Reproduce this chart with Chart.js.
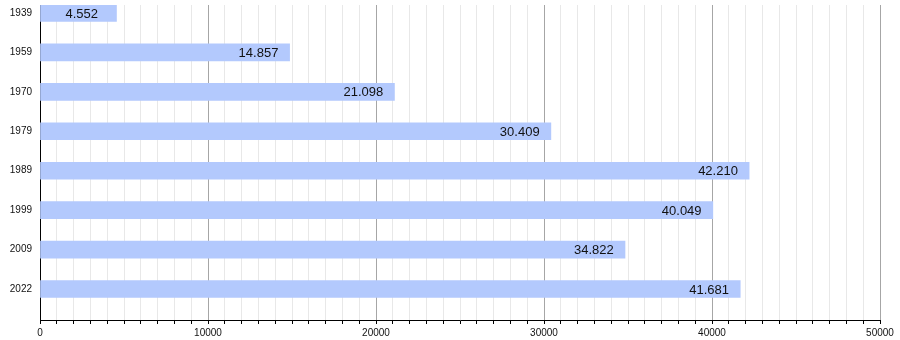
<!DOCTYPE html>
<html>
<head>
<meta charset="utf-8">
<script src="https://cdn.jsdelivr.net/npm/chart.js@4/dist/chart.umd.min.js"></script>
<style>
html,body{margin:0;padding:0;background:#fff;}
canvas{display:block;}
</style>
</head>
<body>
<canvas id="c" width="900" height="340"></canvas>
<script>
const years = ["1939","1959","1970","1979","1989","1999","2009","2022"];
const population = [4552, 14857, 21098, 30409, 42210, 40049, 34822, 41681];
const xTickLabels = ["0","10000","20000","30000","40000","50000"];

function fmt(v){ return String(v).replace(/\B(?=(\d{3})+(?!\d))/g, '.'); }

const labelPlugin = {
  id: 'valueLabels',
  afterDatasetsDraw(chart){
    const ctx = chart.ctx;
    const meta = chart.getDatasetMeta(0);
    ctx.save();
    ctx.font = '13px "Liberation Sans", Arial, sans-serif';
    ctx.fillStyle = '#111';
    ctx.textAlign = 'left';
    ctx.textBaseline = 'middle';
    meta.data.forEach((el, i) => {
      ctx.fillText(fmt(population[i]), el.x - 51, el.y + 1);
    });
    ctx.restore();
  }
};

new Chart(document.getElementById('c'), {
  type: 'bar',
  data: {
    datasets: [{
      data: population.map((v, i) => ({x: v, y: i})),
      backgroundColor: '#b3c9fd',
      borderWidth: 0,
      barThickness: 17
    }]
  },
  options: {
    indexAxis: 'y',
    responsive: false,
    animation: false,
    layout: { padding: { top: 5, right: 20, left: 0, bottom: 0 } },
    plugins: { legend: { display: false }, tooltip: { enabled: false } },
    scales: {
      x: {
        type: 'linear',
        min: 0, max: 50000,
        offset: false,
        afterFit(s){ s.height = 20; s.paddingLeft = 0; s.paddingRight = 0; },
        ticks: {
          stepSize: 1000,
          autoSkip: false,
          maxRotation: 0,
          padding: 3,
          color: '#111',
          font: { family: '"Liberation Sans", Arial, sans-serif', size: 10 },
          callback: (v) => (v % 10000 === 0 ? xTickLabels[v / 10000] : '')
        },
        grid: {
          color: (c) => (c.tick && c.tick.value % 10000 === 0 ? '#a6a6a6' : '#e8e8e8'),
          tickColor: '#000',
          tickLength: 4,
          lineWidth: 1
        },
        border: { color: '#000', width: 1 }
      },
      y: {
        type: 'linear',
        reverse: true,
        offset: false,
        min: -0.203, max: 7.786,
        afterFit(s){ s.width = 40; s.paddingTop = 0; s.paddingBottom = 0; },
        afterBuildTicks(s){ s.ticks = years.map((_, i) => ({value: i})); },
        ticks: {
          autoSkip: false,
          padding: 8,
          color: '#111',
          font: { family: '"Liberation Sans", Arial, sans-serif', size: 10 },
          callback: (v) => years[v] || ''
        },
        grid: { display: false, drawTicks: false },
        border: { color: '#000', width: 1 }
      }
    }
  },
  plugins: [labelPlugin]
});
</script>
</body>
</html>
